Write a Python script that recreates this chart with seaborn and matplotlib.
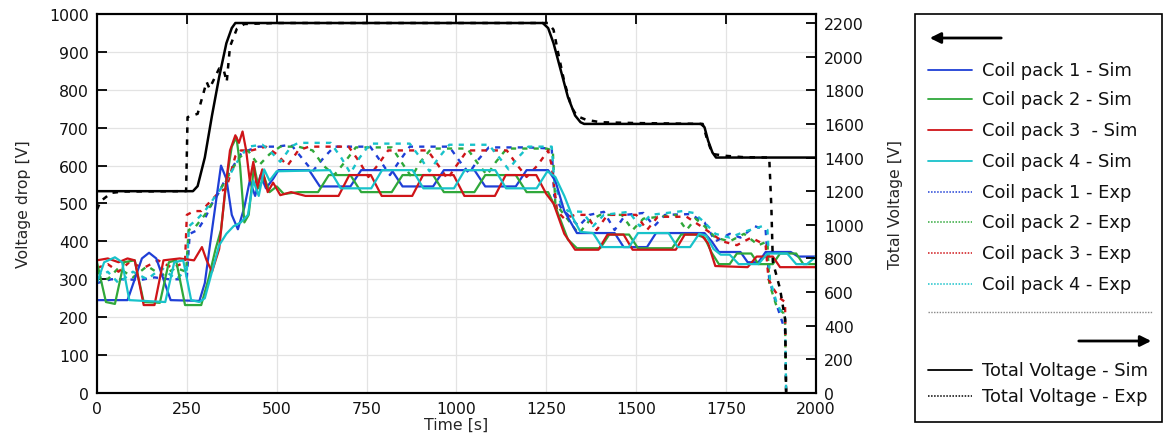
import matplotlib
matplotlib.use("Agg")
import matplotlib.pyplot as plt
from matplotlib.patches import Rectangle
import seaborn as sns

# --- data (time in s, voltage in V) ---
# coil pack simulations (left axis)
c1_sim_t = [0, 85, 105, 125, 145, 165, 185, 205, 285, 300, 320, 345, 360, 375, 392, 410, 425, 440, 455, 470, 490,
            505, 590, 620, 705, 735, 820, 850, 935, 965, 1050, 1080, 1165, 1195, 1255, 1275, 1300, 1335, 1440, 1465,
            1530, 1555, 1690, 1710, 1730, 1790, 1810, 1840, 1860, 1930, 1950, 2000]
c1_sim_v = [245, 245, 300, 355, 370, 355, 300, 245, 243, 290, 430, 600, 565, 470, 432, 490, 560, 520, 575, 540, 565,
            588, 588, 545, 545, 588, 588, 545, 545, 588, 588, 545, 545, 588, 588, 560, 480, 422, 422, 385,
            385, 422, 422, 400, 372, 372, 345, 345, 372, 372, 360, 360]

c2_sim_t = [0, 25, 50, 75, 105, 130, 175, 200, 220, 245, 290, 310, 330, 345, 360, 375, 388, 398, 410, 422, 437, 450,
            465, 480, 500, 520, 560, 615, 645, 705, 735, 820, 850, 935, 965, 1050, 1080, 1165, 1195, 1255, 1280, 1310,
            1335, 1400, 1425, 1480, 1505, 1600, 1625, 1665, 1690, 1710, 1730, 1760, 1780, 1820, 1840, 1880, 1900, 1945,
            1965, 2000]
c2_sim_v = [345, 240, 235, 345, 350, 240, 238, 345, 350, 232, 232, 300, 380, 430, 560, 650, 675, 600, 450, 470, 600, 540,
            570, 530, 545, 525, 530, 530, 575, 575, 530, 530, 575, 575, 530, 530, 575, 575, 530, 530, 480, 405,
            382, 382, 418, 418, 382, 382, 418, 418, 410, 370, 340, 340, 368, 368, 340, 340, 368, 368,
            340, 340]

c3_sim_t = [0, 30, 60, 85, 105, 130, 160, 185, 230, 270, 292, 305, 320, 340, 355, 370, 385, 395, 405, 415, 425, 435,
            445, 460, 475, 490, 510, 540, 580, 672, 702, 762, 792, 877, 907, 992, 1022, 1107, 1137, 1222, 1250, 1270,
            1300, 1330, 1395, 1420, 1465, 1490, 1610, 1635, 1680, 1700, 1720, 1810, 1835, 1880, 1900, 2000]
c3_sim_v = [350, 355, 345, 355, 350, 232, 232, 350, 355, 350, 385, 350, 320, 380, 520, 640, 680, 660, 690, 640, 560, 610,
            540, 590, 530, 555, 522, 530, 520, 520, 575, 575, 520, 520, 575, 575, 520, 520, 575, 575, 525, 500,
            420, 378, 378, 418, 418, 378, 378, 418, 418, 395, 335, 332, 360, 360, 332, 332]

c4_sim_t = [0, 20, 50, 70, 90, 190, 215, 240, 262, 285, 300, 320, 340, 360, 380, 400, 420, 435, 450, 465, 480, 500,
            648, 678, 763, 793, 878, 908, 993, 1023, 1108, 1138, 1223, 1253, 1275, 1300, 1325, 1345, 1380, 1405, 1480,
            1505, 1590, 1615, 1650, 1675, 1695, 1715, 1735, 1760, 1785, 1840, 1865, 1920, 1945, 1975, 2000]
c4_sim_v = [290, 345, 358, 345, 245, 240, 345, 350, 245, 240, 250, 320, 390, 420, 440, 450, 470, 560, 520, 590, 560, 585,
            588, 540, 540, 588, 588, 540, 540, 588, 588, 540, 540, 585, 570, 520, 460, 425, 422, 385, 385,
            422, 422, 385, 385, 420, 415, 380, 365, 365, 340, 340, 368, 368, 340, 340, 360]

# coil pack measurements (left axis)
c1_exp_t = [0, 40, 80, 120, 160, 200, 240, 250, 258, 280, 300, 320, 340, 360, 380, 400, 420, 450, 500, 540, 570, 600,
            630, 660, 760, 790, 815, 840, 870, 980, 1010, 1035, 1060, 1090, 1200, 1265, 1272, 1290, 1310, 1340, 1370,
            1410, 1440, 1470, 1520, 1550, 1580, 1650, 1690, 1720, 1760, 1790, 1830, 1860, 1870, 1885, 1895, 1914, 1917]
c1_exp_v = [290, 300, 300, 298, 305, 300, 300, 305, 420, 430, 460, 500, 530, 570, 600, 630, 640, 650, 650, 655, 620, 585,
            620, 650, 650, 610, 575, 610, 650, 650, 610, 580, 615, 648, 648, 645, 520, 490, 470, 440, 470,
            478, 430, 470, 475, 440, 470, 472, 450, 400, 420, 410, 440, 430, 300, 250, 220, 165, 0]

c2_exp_t = [0, 30, 60, 100, 140, 180, 220, 248, 255, 275, 300, 320, 345, 370, 395, 420, 450, 480, 510, 560, 600, 630,
            660, 690, 720, 820, 850, 875, 900, 930, 1030, 1060, 1085, 1110, 1140, 1250, 1268, 1275, 1300, 1340, 1370,
            1400, 1460, 1490, 1520, 1610, 1640, 1665, 1690, 1720, 1760, 1800, 1840, 1865, 1870, 1890, 1910, 1914, 1917]
c2_exp_v = [320, 300, 330, 305, 335, 310, 330, 320, 430, 440, 470, 500, 540, 580, 620, 640, 600, 630, 650, 650, 640, 600,
            575, 610, 648, 648, 605, 570, 610, 645, 645, 605, 575, 610, 645, 645, 640, 500, 470, 420, 455,
            470, 470, 430, 460, 470, 430, 460, 440, 410, 400, 420, 390, 400, 290, 230, 210, 190, 0]

c3_exp_t = [0, 30, 60, 90, 130, 170, 210, 245, 250, 270, 290, 310, 340, 360, 385, 400, 430, 470, 500, 530, 560, 590,
            700, 730, 755, 780, 810, 920, 950, 975, 1000, 1030, 1140, 1170, 1195, 1225, 1255, 1265, 1280, 1300, 1330,
            1360, 1390, 1420, 1500, 1530, 1560, 1640, 1680, 1710, 1740, 1780, 1820, 1860, 1868, 1885, 1900, 1914, 1917]
c3_exp_v = [330, 340, 320, 345, 330, 350, 330, 345, 470, 480, 480, 500, 530, 540, 625, 640, 640, 650, 630, 600, 640, 650,
            650, 610, 570, 600, 640, 640, 600, 565, 600, 640, 640, 600, 570, 600, 640, 600, 480, 460, 470,
            470, 430, 470, 470, 430, 465, 465, 440, 420, 400, 390, 410, 390, 300, 270, 250, 240, 0]

c4_exp_t = [0, 30, 60, 100, 140, 180, 220, 250, 256, 280, 300, 330, 360, 390, 420, 460, 480, 510, 540, 560, 650, 680,
            705, 730, 760, 870, 900, 925, 950, 980, 1090, 1120, 1145, 1170, 1200, 1265, 1272, 1290, 1310, 1350, 1380,
            1410, 1480, 1510, 1540, 1630, 1660, 1690, 1720, 1760, 1800, 1850, 1865, 1872, 1890, 1905, 1914, 1917]
c4_exp_v = [300, 320, 290, 320, 300, 330, 300, 325, 440, 460, 480, 520, 560, 610, 650, 655, 640, 610, 650, 660, 660, 620,
            580, 620, 658, 658, 620, 585, 620, 655, 655, 620, 590, 620, 650, 650, 560, 500, 480, 478, 440,
            470, 478, 440, 470, 480, 475, 450, 420, 410, 425, 440, 430, 300, 240, 210, 200, 0]

# total voltage (right axis)
tot_sim_t = [0, 267, 280, 300, 320, 340, 360, 375, 385, 1240, 1255, 1270, 1290, 1310, 1330, 1345, 1355, 1680, 1690,
             1700, 1712, 1722, 2000]
tot_sim_v = [1200, 1200, 1230, 1400, 1650, 1880, 2080, 2170, 2200, 2200, 2170, 2080, 1920, 1760, 1650, 1610, 1600, 1600,
             1580, 1500, 1430, 1400, 1400]
tot_exp_t = [0, 10, 40, 75, 248, 252, 280, 305, 313, 340, 352, 361, 370, 389, 410, 500, 1255, 1270, 1285, 1300, 1320,
             1335, 1360, 1400, 1500, 1685, 1697, 1712, 1750, 1800, 1870, 1876, 1880, 1900, 1914, 1917]
tot_exp_v = [1090, 1140, 1190, 1198, 1200, 1640, 1660, 1850, 1810, 1930, 1925, 1850, 2060, 2165, 2194, 2200, 2200, 2160,
             2000, 1850, 1700, 1647, 1625, 1610, 1605, 1600, 1510, 1421, 1410, 1402, 1400, 1100, 780, 620, 440, 0]

coil_labels_sim = ["Coil pack 1 - Sim", "Coil pack 2 - Sim", "Coil pack 3  - Sim", "Coil pack 4 - Sim"]
coil_labels_exp = ["Coil pack 1 - Exp", "Coil pack 2 - Exp", "Coil pack 3 - Exp", "Coil pack 4 - Exp"]
total_labels = ["Total Voltage - Sim", "Total Voltage - Exp"]

colors = ["#1f3fd6", "#2fa83a", "#cf1418", "#18c2ca"]
dash = (0, (2.2, 2.6))

sns.set_theme(style="white")
plt.rcParams["font.family"] = ["DejaVu Sans"]
plt.rcParams["text.color"] = "#111111"

fig = plt.figure(figsize=(11.64, 4.35), dpi=100)
ax = fig.add_axes([0.0833, 0.0943, 0.6177, 0.8712])
ax2 = ax.twinx()

sims = [(c1_sim_t, c1_sim_v), (c2_sim_t, c2_sim_v), (c3_sim_t, c3_sim_v), (c4_sim_t, c4_sim_v)]
exps = [(c1_exp_t, c1_exp_v), (c2_exp_t, c2_exp_v), (c3_exp_t, c3_exp_v), (c4_exp_t, c4_exp_v)]

# measured curves first so the simulated ones sit on top
for (t, v), c in zip(exps, colors):
    sns.lineplot(x=t, y=v, ax=ax, color=c, linewidth=1.7, linestyle=dash, sort=False, estimator=None,
                 errorbar=None, legend=False)
for (t, v), c in zip(sims, colors):
    sns.lineplot(x=t, y=v, ax=ax, color=c, linewidth=1.6, sort=False, estimator=None, errorbar=None, legend=False)

sns.lineplot(x=tot_exp_t, y=tot_exp_v, ax=ax2, color="black", linewidth=1.8, linestyle=dash, sort=False,
             estimator=None, errorbar=None, legend=False)
sns.lineplot(x=tot_sim_t, y=tot_sim_v, ax=ax2, color="black", linewidth=1.8, sort=False, estimator=None,
             errorbar=None, legend=False)

ax.set_xlim(0, 2000)
ax.set_ylim(0, 1000)
ax2.set_ylim(0, 2200 * 379 / 370)
ax.set_xticks(range(0, 2001, 250))
ax.set_yticks(range(0, 1001, 100))
ax2.set_yticks(range(0, 2201, 200))

ax.grid(True, color="#e3e3e3", linewidth=0.9)
ax2.grid(False)
ax.set_axisbelow(True)

for a in (ax, ax2):
    for s in a.spines.values():
        s.set_color("black")
        s.set_linewidth(1.5)

ax.tick_params(axis="x", direction="in", length=7, width=1.3, top=True, labelsize=11.3, pad=6,
               colors="black", labelcolor="#111111")
ax.tick_params(axis="y", direction="in", length=7, width=1.3, labelsize=11.3, pad=6,
               colors="black", labelcolor="#111111")
ax2.tick_params(axis="y", direction="in", length=7, width=1.3, labelsize=11.3, pad=6,
                colors="black", labelcolor="#111111")

ax.set_xlabel("Time [s]", fontsize=11.3, labelpad=0)
ax.set_ylabel("Voltage drop [V]", fontsize=11.3, labelpad=13)
ax2.set_ylabel("Total Voltage [V]", fontsize=11.3, labelpad=17)

# hand-built legend box on a pixel-coordinate overlay
leg = fig.add_axes([0, 0, 1, 1])
leg.set_xlim(0, 1164)
leg.set_ylim(435, 0)
leg.axis("off")
leg.add_patch(Rectangle((915, 15), 247, 408, fill=False, edgecolor="black", linewidth=1.2))

leg.annotate("", xy=(927, 39), xytext=(1004, 39),
             arrowprops=dict(arrowstyle="-|>", color="black", lw=2, mutation_scale=16))
leg.annotate("", xy=(1154, 342), xytext=(1076, 342),
             arrowprops=dict(arrowstyle="-|>", color="black", lw=2, mutation_scale=16))

rows_sim = [71, 100, 131, 162]
rows_exp = [193, 223, 254, 285]
for y, c, lab in zip(rows_sim, colors, coil_labels_sim):
    leg.plot([928, 972], [y, y], color=c, linewidth=1.3)
    leg.text(982, y, lab, fontsize=12.9, va="center", ha="left")
for y, c, lab in zip(rows_exp, colors, coil_labels_exp):
    leg.plot([928, 972], [y, y], color=c, linewidth=1.1, linestyle=(0, (1, 1)))
    leg.text(982, y, lab, fontsize=12.9, va="center", ha="left")

leg.plot([928, 1153], [313, 313], color="#888888", linewidth=1.0, linestyle=(0, (1, 1)))

leg.plot([928, 972], [371, 371], color="black", linewidth=1.3)
leg.text(982, 371, total_labels[0], fontsize=12.9, va="center", ha="left")
leg.plot([928, 972], [397, 397], color="black", linewidth=1.1, linestyle=(0, (1, 1)))
leg.text(982, 397, total_labels[1], fontsize=12.9, va="center", ha="left")

fig.savefig("out.png", dpi=100)
